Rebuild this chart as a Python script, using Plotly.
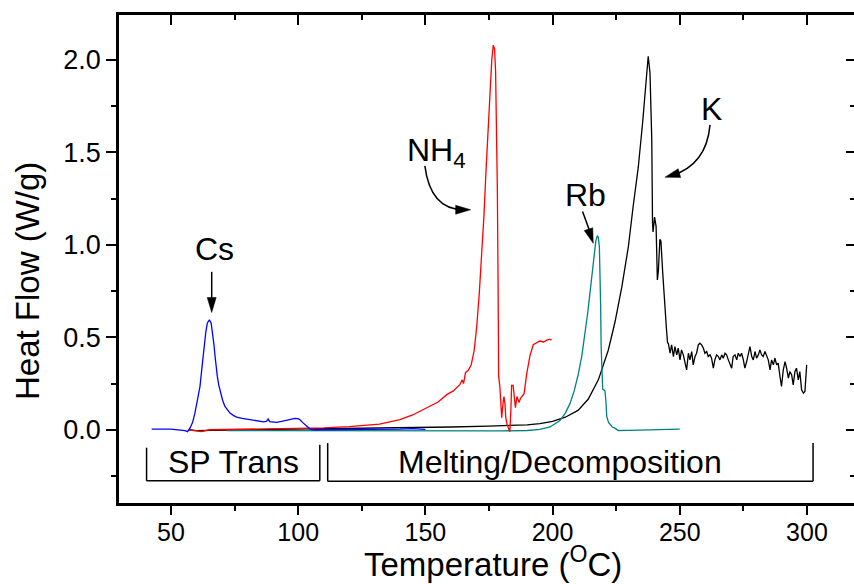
import plotly.graph_objects as go
import math

# ---------------- data (Temperature in C, Heat flow in W/g) ----------------
cs_T = [42.4, 50, 55.5, 56.5, 57.5, 58.5, 59.4, 60.4, 61.4, 62.2, 63, 63.7, 64.3, 65.1, 65.8,
        66.4, 66.9, 67.3, 67.7, 68.2, 68.8, 69.5, 70.3, 71.2, 72.2, 73.2, 74.5, 75.8, 78, 81.1,
        84, 86.3, 87.5, 88.2, 88.8, 91.5, 93.5, 95.5, 97.2, 98.7, 100.0, 100.7, 101.7, 102.7,
        103.7, 104.6, 106, 112, 120, 125, 130, 140, 145, 150]
cs_V = [0.004, 0.003, -0.005, -0.01, 0.01, 0.04, 0.09, 0.16, 0.234, 0.34, 0.45, 0.53, 0.578, 0.595, 0.575,
        0.52, 0.46, 0.40, 0.34, 0.29, 0.24, 0.198, 0.16, 0.126, 0.105, 0.09, 0.078, 0.069, 0.062, 0.054,
        0.048, 0.043, 0.045, 0.058, 0.044, 0.04, 0.045, 0.05, 0.056, 0.061, 0.06, 0.054, 0.04, 0.027,
        0.014, 0.005, 0.0, 0.0, 0.003, 0.0, 0.004, 0.003, 0.006, 0.002]

nh4_T = [57, 60, 62, 65, 80, 100, 110, 120, 132, 140, 145, 150, 155, 158.4, 161, 163.6, 164.5, 165.0,
         165.8, 166.8, 168, 169.2, 170.2, 171.2, 172.1, 173, 173.8, 174.6, 175.4, 176.1, 176.7, 177.2,
         177.6, 178.0, 178.3, 178.6, 178.8, 179.3, 179.7, 180.0, 180.5, 180.9, 181.3, 181.6, 182.1,
         182.5, 183.0, 183.2, 183.6, 183.9, 184.5, 185.0, 185.4, 186.0, 186.4, 186.8, 187.4, 187.9,
         188.8, 189.8, 191.1, 192.4, 193.7, 195, 196.5, 197.7, 198.9, 199.6]
nh4_V = [0.0, -0.008, -0.01, 0.0, 0.002, 0.006, 0.01, 0.017, 0.03, 0.055, 0.08, 0.115, 0.15, 0.19, 0.21,
         0.245, 0.27, 0.25, 0.31, 0.32, 0.35, 0.43, 0.56, 0.74, 0.93, 1.15, 1.39, 1.62, 1.85, 2.0, 2.08,
         2.06, 1.94, 1.65, 1.30, 0.75, 0.29, 0.23, 0.12, 0.065, 0.14, 0.18, 0.14, 0.065, 0.03, 0.01,
         -0.005, -0.01, 0.10, 0.24, 0.24, 0.17, 0.12, 0.18, 0.16, 0.148, 0.17, 0.18, 0.195, 0.30, 0.40,
         0.46, 0.47, 0.48, 0.475, 0.485, 0.49, 0.485]

rb_T = [72, 100, 130, 160, 180, 190, 195, 199, 202.9, 205, 206.8, 208.5, 210.1, 211.5, 212.7, 213.8,
        214.7, 215.5, 216.3, 217.0, 217.6, 218.0, 218.4, 218.7, 218.9, 219.1, 219.3, 219.7, 220.2,
        220.6, 221.0, 221.3, 222.0, 222.6, 223.5, 224.5, 225.8, 230, 235, 240, 245, 248, 249, 250]
rb_V = [-0.004, -0.005, -0.006, -0.006, -0.006, -0.004, 0.002, 0.015, 0.05, 0.09, 0.14, 0.21, 0.30,
        0.40, 0.51, 0.63, 0.74, 0.85, 0.96, 1.02, 1.05, 1.04, 0.99, 0.85, 0.67, 0.45, 0.31, 0.22, 0.215,
        0.21, 0.15, 0.072, 0.04, 0.027, 0.015, 0.009, -0.004, -0.003, -0.002, -0.001, 0.0, 0.003, 0.0, 0.004]

k_T = [57, 60, 80, 100, 120, 140, 160, 175, 185, 190, 195, 200, 205, 210, 214, 218, 221.9, 224.5,
       227.2, 229.8, 231.7, 233.7, 235.4, 236.7, 237.6, 238.3, 239.0, 239.3, 239.5, 240.1, 240.7,
       241.2, 241.6, 242.2, 242.6, 243.3, 244.0, 244.8, 245.2,
       245.5, 246.2, 246.8, 247.5, 248.1, 248.8, 249.4, 250.1, 250.7, 251.4, 252.1, 252.7, 253.4,
       254.0, 254.7, 255.3, 256.0, 256.6, 257.3, 257.9, 258.6, 259.3, 259.9, 260.6, 261.2, 261.9,
       262.5, 263.2, 263.8, 264.5, 265.2, 265.8, 266.5, 267.1, 267.8, 268.4, 269.1, 269.7, 270.4,
       271.0, 271.7, 272.4, 273.0, 273.7, 274.3, 275.0, 275.6, 276.3, 276.9, 277.6, 278.3, 278.9,
       279.6, 280.2, 280.9, 281.5, 282.2, 282.8, 283.5, 284.1, 284.8, 285.5, 286.1, 286.8, 287.4,
       288.1, 288.7, 289.4, 290.0, 290.7, 291.4, 292.0, 292.7, 293.3, 294.0, 294.6, 295.3, 295.9,
       296.6, 297.2, 297.9, 298.6, 299.2, 299.9]
k_V = [0.0, -0.005, 0.0, 0.003, 0.006, 0.01, 0.015, 0.02, 0.024, 0.027, 0.033, 0.045, 0.068, 0.105,
       0.165, 0.27, 0.43, 0.58, 0.77, 0.99, 1.21, 1.42, 1.66, 1.89, 2.02, 1.93, 1.57, 1.12, 1.07, 1.15,
       1.10, 0.81, 0.86, 1.03, 1.02, 0.85, 0.68, 0.54, 0.47,
       0.468, 0.414, 0.459, 0.396, 0.450, 0.405, 0.441, 0.378, 0.432, 0.405, 0.351, 0.324, 0.414,
       0.378, 0.423, 0.351, 0.396, 0.414, 0.459, 0.468, 0.459, 0.441, 0.414, 0.423, 0.396, 0.405,
       0.387, 0.333, 0.378, 0.405, 0.396, 0.378, 0.405, 0.387, 0.414, 0.405, 0.378, 0.351, 0.333,
       0.396, 0.405, 0.378, 0.414, 0.396, 0.414, 0.378, 0.333, 0.369, 0.414, 0.450, 0.396, 0.378,
       0.423, 0.387, 0.405, 0.432, 0.405, 0.396, 0.423, 0.396, 0.378, 0.324, 0.378, 0.351, 0.387,
       0.351, 0.360, 0.288, 0.234, 0.324, 0.369, 0.333, 0.279, 0.315, 0.297, 0.243, 0.315, 0.333,
       0.270, 0.315, 0.216, 0.198, 0.207, 0.351]

x_ticks = [50, 100, 150, 200, 250, 300]
y_ticks = [0.0, 0.5, 1.0, 1.5, 2.0]

# ---------------- layout geometry ----------------
W, H = 854, 584
ML, MR, MT, MB = 119, 0, 15, 81
X0, X1 = 29.56, 318.5
Y0, Y1 = -0.396, 2.243
PW, PH = W - ML - MR, H - MT - MB
SX = PW / (X1 - X0)
SY = PH / (Y1 - Y0)

FONT = "Liberation Sans, Arial, Helvetica, sans-serif"

fig = go.Figure()
fig.add_trace(go.Scatter(x=k_T, y=k_V, mode="lines", line=dict(color="black", width=1.3), showlegend=False))
fig.add_trace(go.Scatter(x=rb_T, y=rb_V, mode="lines", line=dict(color="#008080", width=1.3), showlegend=False))
fig.add_trace(go.Scatter(x=nh4_T, y=nh4_V, mode="lines", line=dict(color="#ff0000", width=1.3), showlegend=False))
fig.add_trace(go.Scatter(x=cs_T, y=cs_V, mode="lines", line=dict(color="#0000ff", width=1.3), showlegend=False))
# invisible trace to anchor the mirrored top/right axes
fig.add_trace(go.Scatter(x=[X0], y=[Y0], xaxis="x2", yaxis="y2", mode="markers",
                         marker=dict(opacity=0), showlegend=False, hoverinfo="skip"))

shapes = []

def seg(x0, y0, x1, y1, w=1.5):
    shapes.append(dict(type="line", xref="x", yref="y", x0=x0, y0=y0, x1=x1, y1=y1,
                       line=dict(color="black", width=w), layer="above"))

def head(tx, ty, dx, dy, L=15, Wd=9):
    n = math.hypot(dx, dy)
    ux, uy = dx / n, dy / n          # screen direction (y down)
    bx, by = -ux * L, -uy * L
    px, py = -uy * Wd / 2, ux * Wd / 2
    pts = [(0, 0), (bx + px, by + py), (bx - px, by - py)]
    d = "M " + " L ".join(f"{tx + ox / SX:.4f},{ty - oy / SY:.4f}" for ox, oy in pts) + " Z"
    shapes.append(dict(type="path", xref="x", yref="y", path=d, fillcolor="black",
                       line=dict(color="black", width=0.5), layer="above"))

def curve(p0, c, p1):
    d = f"M {p0[0]},{p0[1]} Q {c[0]},{c[1]} {p1[0]},{p1[1]}"
    shapes.append(dict(type="path", xref="x", yref="y", path=d,
                       line=dict(color="black", width=1.5), layer="above"))

# Cs arrow
seg(66.0, 0.854, 66.0, 0.66)
head(66.0, 0.634, 0, 1)
# Rb arrow
seg(211.8, 1.18, 215.5, 1.04)
head(216.0, 1.008, (216.0 - 211.8) * SX, (1.18 - 1.008) * SY)
# NH4 curved arrow
curve((149.8, 1.427), (152.0, 1.19), (165.0, 1.19))
head(167.8, 1.19, 1, 0)
# K curved arrow
curve((261.9, 1.649), (260.5, 1.43), (246.5, 1.373))
head(244.2, 1.366, (244.2 - 260.5) * SX, -(1.366 - 1.43) * SY)

# brackets
seg(40.4, -0.097, 40.4, -0.276)
seg(40.4, -0.276, 108.5, -0.276)
seg(108.5, -0.081, 108.5, -0.276)
seg(111.6, -0.072, 111.6, -0.279)
seg(111.6, -0.279, 302.4, -0.279)
seg(302.4, -0.072, 302.4, -0.279)

lab_font = dict(family=FONT, size=32, color="black")
annotations = [
    dict(x=67.1, y=0.978, xref="x", yref="y", text="Cs", showarrow=False, font=lab_font),
    dict(x=142.0, y=1.50, xref="x", yref="y", text="NH<sub>4</sub>", showarrow=False,
         font=lab_font, xanchor="left"),
    dict(x=213.1, y=1.27, xref="x", yref="y", text="Rb", showarrow=False, font=lab_font),
    dict(x=262.3, y=1.735, xref="x", yref="y", text="K", showarrow=False, font=lab_font),
    dict(x=74.7, y=-0.175, xref="x", yref="y", text="SP Trans", showarrow=False, font=lab_font),
    dict(x=202.8, y=-0.175, xref="x", yref="y", text="Melting/Decomposition", showarrow=False,
         font=lab_font),
    dict(x=(27 - ML) / PW, y=(H - MB - 281) / PH, xref="paper", yref="paper",
         xanchor="center", yanchor="middle",
         text="Heat Flow (W/g)", textangle=-90, showarrow=False,
         font=dict(family=FONT, size=33, color="black")),
    dict(x=(493 - ML) / PW, y=(H - MB - 562) / PH, xref="paper", yref="paper",
         xanchor="center", yanchor="middle",
         text="Temperature (<sup>O</sup>C)", showarrow=False,
         font=dict(family=FONT, size=33, color="black")),
]

fig.update_layout(
    width=W, height=H,
    margin=dict(l=ML, r=MR, t=MT, b=MB, pad=0),
    paper_bgcolor="white", plot_bgcolor="white",
    shapes=shapes, annotations=annotations,
    showlegend=False,
    xaxis=dict(range=[X0, X1], showgrid=False, zeroline=False, showline=True, linecolor="black",
               linewidth=2.5, ticks="outside", ticklen=9, tickwidth=2, tickcolor="black",
               tickvals=x_ticks, ticktext=[str(v) for v in x_ticks], ticklabelstandoff=-4,
               minor=dict(dtick=25, tick0=25, ticklen=5, tickwidth=2, tickcolor="black", ticks="outside"),
               tickfont=dict(family=FONT, size=25, color="black"), automargin=False),
    xaxis2=dict(range=[X0, X1], overlaying="x", side="top", showgrid=False, zeroline=False,
                showline=True, linecolor="black", linewidth=2.5, ticks="inside", ticklen=10,
                tickwidth=2, tickcolor="black", tickvals=x_ticks, showticklabels=False,
                minor=dict(dtick=25, tick0=25, ticklen=5, tickwidth=2, tickcolor="black", ticks="inside"),
                automargin=False),
    yaxis=dict(range=[Y0, Y1], showgrid=False, zeroline=False, showline=True, linecolor="black",
               linewidth=2.5, ticks="outside", ticklen=10, tickwidth=2, tickcolor="black",
               tickvals=y_ticks, ticktext=[f"{v:.1f}" for v in y_ticks],
               minor=dict(dtick=0.25, tick0=0.25, ticklen=5, tickwidth=2, tickcolor="black", ticks="outside"),
               tickfont=dict(family=FONT, size=27, color="black"), automargin=False),
    yaxis2=dict(range=[Y0, Y1], overlaying="y", side="right", showgrid=False, zeroline=False,
                showline=False, ticks="inside", ticklen=8, tickwidth=2, tickcolor="black",
                tickvals=y_ticks, showticklabels=False,
                minor=dict(dtick=0.25, tick0=0.25, ticklen=4, tickwidth=2, tickcolor="black", ticks="inside"),
                automargin=False),
)

fig.write_html("out.html")
